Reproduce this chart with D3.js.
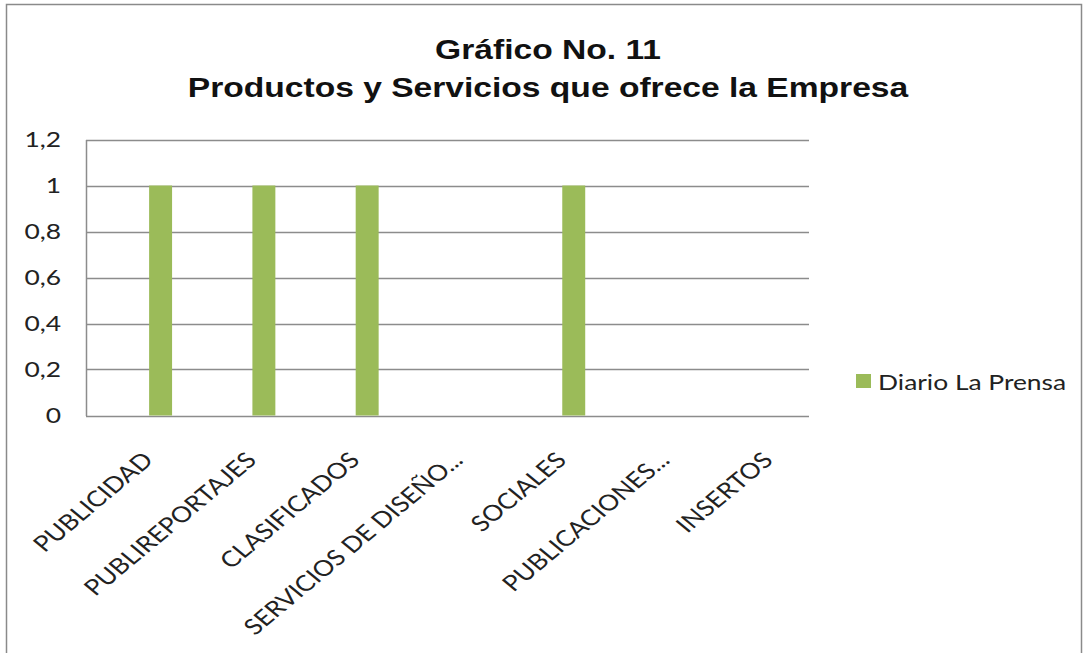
<!DOCTYPE html>
<html>
<head>
<meta charset="utf-8">
<script src="https://cdn.jsdelivr.net/npm/d3@7"></script>
<style>
  html, body { margin: 0; padding: 0; background: #fff; }
  svg { display: block; }
</style>
</head>
<body>
<svg id="chart" width="1086" height="653"></svg>
<script>
// Chart data
const titleLines = ["Gráfico No. 11", "Productos y Servicios que ofrece la Empresa"];
const categories = ["PUBLICIDAD", "PUBLIREPORTAJES", "CLASIFICADOS", "SERVICIOS DE DISEÑO...", "SOCIALES", "PUBLICACIONES...", "INSERTOS"];
const seriesName = "Diario La Prensa";
const seriesValues = [1, 1, 1, 0, 1, 0, 0];
const yTicks = [0, 0.2, 0.4, 0.6, 0.8, 1, 1.2];
// clustered layout: three slots per category, this series uses the third
const clusterSlots = ["a", "b", "c"];
const seriesSlot = "c";

const svg = d3.select("#chart");
const plot = { left: 86, right: 809, top: 139.5, bottom: 415.5 };
const labelFont = "Lato, 'Open Sans', sans-serif";
const labelSize = 22;
const wide = 1.2; // the whole drawing uses horizontally widened lettering

// chart area frame
svg.append("rect")
  .attr("x", 6.5).attr("y", 4.5)
  .attr("width", 1075).attr("height", 660)
  .attr("fill", "#fff")
  .attr("stroke", "#8a8a8a")
  .attr("stroke-width", 1.5);

// title
const titleCx = 548;
svg.append("g")
  .attr("transform", `translate(${titleCx},0) scale(${wide},1)`)
  .selectAll("text")
  .data(titleLines)
  .join("text")
  .attr("x", 0)
  .attr("y", (d, i) => 59 + i * 38)
  .attr("text-anchor", "middle")
  .attr("font-family", "'Liberation Sans', Arial, sans-serif")
  .attr("font-weight", "bold")
  .attr("font-size", 28)
  .attr("fill", "#111")
  .text(d => d);

const x = d3.scaleBand()
  .domain(categories)
  .range([plot.left, plot.right]);

const xSlot = d3.scaleBand()
  .domain(clusterSlots)
  .range([0, x.bandwidth()])
  .paddingOuter(0.75);

const y = d3.scaleLinear()
  .domain([0, 1.2])
  .range([plot.bottom, plot.top]);

// horizontal gridlines
svg.append("g")
  .selectAll("line")
  .data(yTicks)
  .join("line")
  .attr("x1", plot.left).attr("x2", plot.right)
  .attr("y1", d => Math.round(y(d)) + 0.5)
  .attr("y2", d => Math.round(y(d)) + 0.5)
  .attr("stroke", "#8c8c8c")
  .attr("stroke-width", 1.5);

// value axis
const yAxis = d3.axisLeft(y)
  .tickValues(yTicks)
  .tickSize(0)
  .tickPadding(25)
  .tickFormat(d => d3.format("~g")(d).replace(".", ","));

const yG = svg.append("g")
  .attr("transform", `translate(${plot.left},0)`)
  .call(yAxis);
yG.select(".domain").attr("stroke", "#8c8c8c").attr("stroke-width", 1.5);
yG.selectAll(".tick text")
  .attr("x", 0)
  .attr("transform", `translate(-25,0) scale(${wide},1)`)
  .attr("font-family", labelFont)
  .attr("font-size", labelSize)
  .attr("fill", "#222");

// bars
svg.append("g")
  .selectAll("rect")
  .data(categories.map((c, i) => ({ c, v: seriesValues[i] })))
  .join("rect")
  .attr("x", d => x(d.c) + xSlot(seriesSlot))
  .attr("width", xSlot.bandwidth())
  .attr("y", d => y(d.v))
  .attr("height", d => y(0) - y(d.v))
  .attr("fill", "#9bbb59");

// category axis, slanted labels
const xAxis = d3.axisBottom(x).tickSize(0).tickPadding(0);
const xG = svg.append("g")
  .attr("transform", `translate(0,${plot.bottom})`)
  .call(xAxis);
xG.select(".domain").remove();
xG.selectAll(".tick text")
  .attr("font-family", labelFont)
  .attr("font-size", labelSize)
  .attr("fill", "#222")
  .attr("text-anchor", "end")
  .attr("dy", 0)
  .attr("y", 0)
  .attr("transform", `translate(17,46) scale(${wide},1) rotate(-45)`);

// legend
const legend = svg.append("g").attr("transform", "translate(856,374)");
legend.append("rect")
  .attr("width", 15).attr("height", 14)
  .attr("fill", "#9bbb59");
legend.append("text")
  .attr("transform", `translate(22,16) scale(${wide},1)`)
  .attr("font-family", labelFont)
  .attr("font-size", labelSize)
  .attr("fill", "#222")
  .text(seriesName);
</script>
</body>
</html>
